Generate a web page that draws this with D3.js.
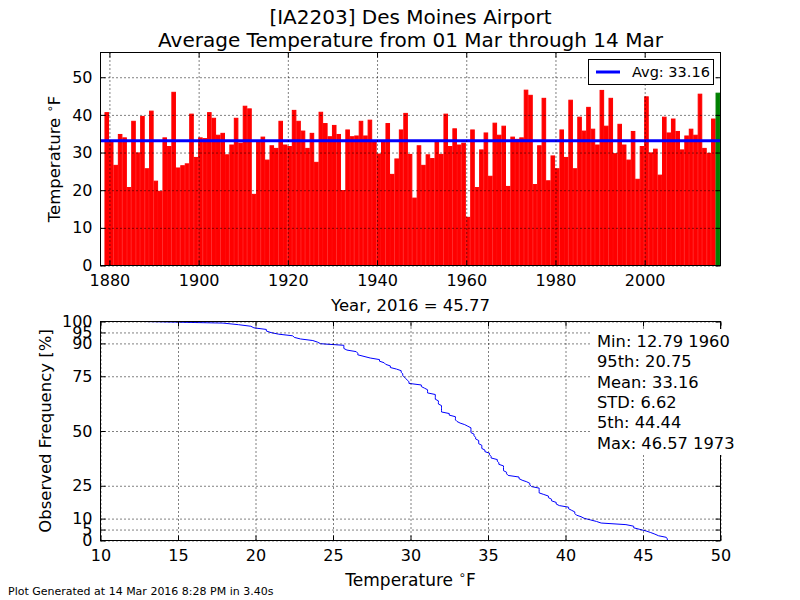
<!DOCTYPE html>
<html>
<head>
<meta charset="utf-8">
<script src="https://cdn.jsdelivr.net/npm/d3@7"></script>
<style>
  body { margin: 0; background: #fff; }
  svg { font-family: "DejaVu Sans", sans-serif; }
</style>
</head>
<body>
<div id="chart"></div>
<script>

var stationTitle = "[IA2203] Des Moines Airport";
var periodTitle = "Average Temperature from 01 Mar through 14 Mar";
var footerText = "Plot Generated at 14 Mar 2016 8:28 PM in 3.40s";

// one value per year, 1879 .. 2016 (last one is the current year)
var firstYear = 1879;
var temps = [
    40.6, 33.0, 26.6, 34.8, 33.9, 20.7, 38.3, 29.9, 39.6, 25.7,   // 1879-1888
    41.0, 22.4, 19.7, 33.9, 31.6, 46.0, 25.9, 26.5, 27.0, 40.2,   // 1889-1898
    28.7, 33.9, 33.7, 40.6, 39.1, 34.6, 35.1, 29.4, 32.0, 39.1,   // 1899-1908
    32.5, 42.3, 41.6, 18.9, 32.9, 34.1, 28.0, 31.8, 31.1, 38.3,   // 1909-1918
    32.0, 31.6, 41.2, 38.3, 35.7, 31.1, 35.1, 27.4, 40.7, 37.7,   // 1919-1928
    34.2, 37.2, 34.8, 19.9, 36.0, 34.2, 34.4, 38.3, 34.4, 38.6,   // 1929-1938
    32.9, 29.6, 32.9, 37.7, 24.2, 28.3, 36.0, 40.4, 29.5, 17.9,   // 1939-1948
    31.8, 26.6, 29.4, 28.4, 33.2, 29.5, 40.2, 31.6, 36.3, 32.0,   // 1949-1958
    32.5, 12.79, 36.0, 20.7, 30.7, 35.2, 23.7, 37.8, 34.6, 37.0,  // 1959-1968
    21.0, 34.1, 33.5, 33.9, 46.57, 45.2, 21.5, 31.8, 44.4, 22.5,  // 1969-1978
    29.1, 25.7, 36.0, 28.7, 43.9, 25.7, 39.4, 35.7, 42.0, 36.2,   // 1979-1988
    32.0, 46.5, 37.0, 44.4, 29.7, 37.5, 32.0, 28.0, 35.6, 22.9,   // 1989-1998
    31.6, 44.8, 29.9, 30.9, 24.0, 39.4, 35.2, 38.9, 35.6, 30.7,   // 1999-2008
    34.4, 36.2, 34.6, 45.5, 31.1, 29.8, 38.9, 45.77               // 2009-2016
];
var avgTemp = 33.16;

var yearTicks = [1880, 1900, 1920, 1940, 1960, 1980, 2000];
var tempTicks = [0, 10, 20, 30, 40, 50];
var freqTicks = [0, 5, 10, 25, 50, 75, 90, 95, 100];
var cdfTempTicks = [10, 15, 20, 25, 30, 35, 40, 45, 50];
var statsLines = ["Min: 12.79 1960", "95th: 20.75", "Mean: 33.16",
                  "STD: 6.62", "5th: 44.44", "Max: 46.57 1973"];

var width = 800, height = 600;
var left = 100.5, right = 720.5;
var top1 = 52.5, bottom1 = 265.5;
var top2 = 321.5, bottom2 = 540.5;

var svg = d3.select("#chart").append("svg")
    .attr("width", width)
    .attr("height", height)
    .attr("viewBox", [0, 0, width, height]);

var data = temps.map(function (t, i) { return {year: firstYear + i, temp: t}; });
var lastYear = data[data.length - 1].year;

// little helper for "Temperature °F" with a raised ring
function degLabel(sel, before) {
    sel.append("tspan").text(before);
    sel.append("tspan").attr("font-size", "70%").attr("dy", "-0.55em").text("\u2218");
    sel.append("tspan").attr("dy", "0.4em").text("F");
}

// draws inward ticks on all four sides + dotted grid + frame
function frame(g, xScale, yScale, xTicks, yTicks, x0, x1, y0, y1) {
    g.append("g").attr("transform", "translate(0," + y1 + ")")
        .call(d3.axisBottom(xScale).tickValues(xTicks).tickSize(-(y1 - y0)).tickFormat(""))
        .call(s => s.select(".domain").remove())
        .call(s => s.selectAll("line").attr("stroke", "#000").attr("stroke-dasharray", "1,3"));
    g.append("g").attr("transform", "translate(" + x0 + ",0)")
        .call(d3.axisLeft(yScale).tickValues(yTicks).tickSize(-(x1 - x0)).tickFormat(""))
        .call(s => s.select(".domain").remove())
        .call(s => s.selectAll("line").attr("stroke", "#000").attr("stroke-dasharray", "1,3"));

    g.append("g").attr("transform", "translate(0," + y1 + ")")
        .call(d3.axisBottom(xScale).tickValues(xTicks).tickFormat(d3.format("d"))
            .tickSizeInner(-5).tickSizeOuter(0).tickPadding(9))
        .call(s => s.select(".domain").remove())
        .call(s => s.selectAll("text").attr("font-size", 16).attr("fill", "#000").attr("font-family", "DejaVu Sans"));
    g.append("g").attr("transform", "translate(0," + y0 + ")")
        .call(d3.axisTop(xScale).tickValues(xTicks).tickSizeInner(-5).tickSizeOuter(0).tickFormat(""))
        .call(s => s.select(".domain").remove());
    g.append("g").attr("transform", "translate(" + x0 + ",0)")
        .call(d3.axisLeft(yScale).tickValues(yTicks).tickFormat(d3.format("d"))
            .tickSizeInner(-5).tickSizeOuter(0).tickPadding(8))
        .call(s => s.select(".domain").remove())
        .call(s => s.selectAll("text").attr("font-size", 16).attr("fill", "#000").attr("font-family", "DejaVu Sans"));
    g.append("g").attr("transform", "translate(" + x1 + ",0)")
        .call(d3.axisRight(yScale).tickValues(yTicks).tickSizeInner(-5).tickSizeOuter(0).tickFormat(""))
        .call(s => s.select(".domain").remove());

    g.append("rect")
        .attr("x", x0).attr("y", y0)
        .attr("width", x1 - x0).attr("height", y1 - y0)
        .attr("fill", "none").attr("stroke", "#000").attr("stroke-width", 1);
}

// ---------- top panel: bars per year ----------
var xYear = d3.scaleLinear([firstYear - 1, lastYear + 1], [left, right]);
var yTemp = d3.scaleLinear([0, d3.max(temps) + 10], [bottom1, top1]);

var topPanel = svg.append("g");
topPanel.append("clipPath").attr("id", "clipTop")
    .append("rect").attr("x", left).attr("y", top1)
    .attr("width", right - left).attr("height", bottom1 - top1);

topPanel.append("g").attr("clip-path", "url(#clipTop)")
    .selectAll("rect")
    .data(data)
    .join("rect")
        .attr("x", d => xYear(d.year))
        .attr("y", d => yTemp(d.temp))
        .attr("width", d => xYear(d.year + 0.8) - xYear(d.year))
        .attr("height", d => yTemp(0) - yTemp(d.temp))
        .attr("fill", d => d.year === lastYear ? "green" : "red")
        .attr("stroke", d => d.year === lastYear ? "green" : "red")
        .attr("stroke-width", 1);

topPanel.append("line")
    .attr("x1", left).attr("x2", right)
    .attr("y1", yTemp(avgTemp)).attr("y2", yTemp(avgTemp))
    .attr("stroke", "blue").attr("stroke-width", 3);

frame(topPanel, xYear, yTemp, yearTicks, tempTicks, left, right, top1, bottom1);

// legend
var legend = topPanel.append("g");
legend.append("rect")
    .attr("x", 588.5).attr("y", 59.5).attr("width", 125).attr("height", 25)
    .attr("fill", "#fff").attr("stroke", "#000");
legend.append("line")
    .attr("x1", 596).attr("x2", 620).attr("y1", 72).attr("y2", 72)
    .attr("stroke", "blue").attr("stroke-width", 3);
legend.append("text")
    .attr("x", 632).attr("y", 77)
    .attr("font-size", 14.5)
    .text("Avg: " + avgTemp.toFixed(2));

// ---------- bottom panel: exceedance frequency ----------
var xT = d3.scaleLinear([10, 50], [left, right]);
var yF = d3.scaleLinear([0, 100], [bottom2, top2]);

var sorted = temps.slice().sort(d3.ascending);
var n = sorted.length;
var cdf = sorted.map(function (t, i) { return [t, (n - i) / n * 100]; });
cdf.push([sorted[n - 1], 0]);

var botPanel = svg.append("g");
botPanel.append("path")
    .datum(cdf)
    .attr("fill", "none")
    .attr("stroke", "blue")
    .attr("stroke-width", 1)
    .attr("d", d3.line().x(d => xT(d[0])).y(d => yF(d[1])));

frame(botPanel, xT, yF, cdfTempTicks, freqTicks, left, right, top2, bottom2);

// stats box, white background hides the grid behind it
var statsBox = botPanel.append("g");
statsBox.append("rect")
    .attr("x", 592).attr("y", 329)
    .attr("width", 146).attr("height", 126)
    .attr("fill", "#fff");
statsBox.selectAll("text")
    .data(statsLines)
    .join("text")
        .attr("x", 597)
        .attr("y", (d, i) => 347 + i * 20.3)
        .attr("font-size", 16.3)
        .text(d => d);

// ---------- titles and labels ----------
svg.append("text").attr("x", (left + right) / 2).attr("y", 24)
    .attr("text-anchor", "middle").attr("font-size", 20).text(stationTitle);
svg.append("text").attr("x", (left + right) / 2).attr("y", 47)
    .attr("text-anchor", "middle").attr("font-size", 20).text(periodTitle);

svg.append("text")
    .attr("transform", "translate(60," + (top1 + bottom1) / 2 + ") rotate(-90)")
    .attr("text-anchor", "middle").attr("font-size", 16.5)
    .call(degLabel, "Temperature ");

svg.append("text").attr("x", (left + right) / 2).attr("y", 311)
    .attr("text-anchor", "middle").attr("font-size", 16.5)
    .text("Year, " + lastYear + " = " + temps[temps.length - 1].toFixed(2));

svg.append("text")
    .attr("transform", "translate(51," + (top2 + bottom2) / 2 + ") rotate(-90)")
    .attr("text-anchor", "middle").attr("font-size", 16.5)
    .text("Observed Frequency [%]");

svg.append("text").attr("x", (left + right) / 2).attr("y", 586)
    .attr("text-anchor", "middle").attr("font-size", 17)
    .call(degLabel, "Temperature ");

svg.append("text").attr("x", 8).attr("y", 595)
    .attr("font-size", 11).text(footerText);

</script>
</body>
</html>
